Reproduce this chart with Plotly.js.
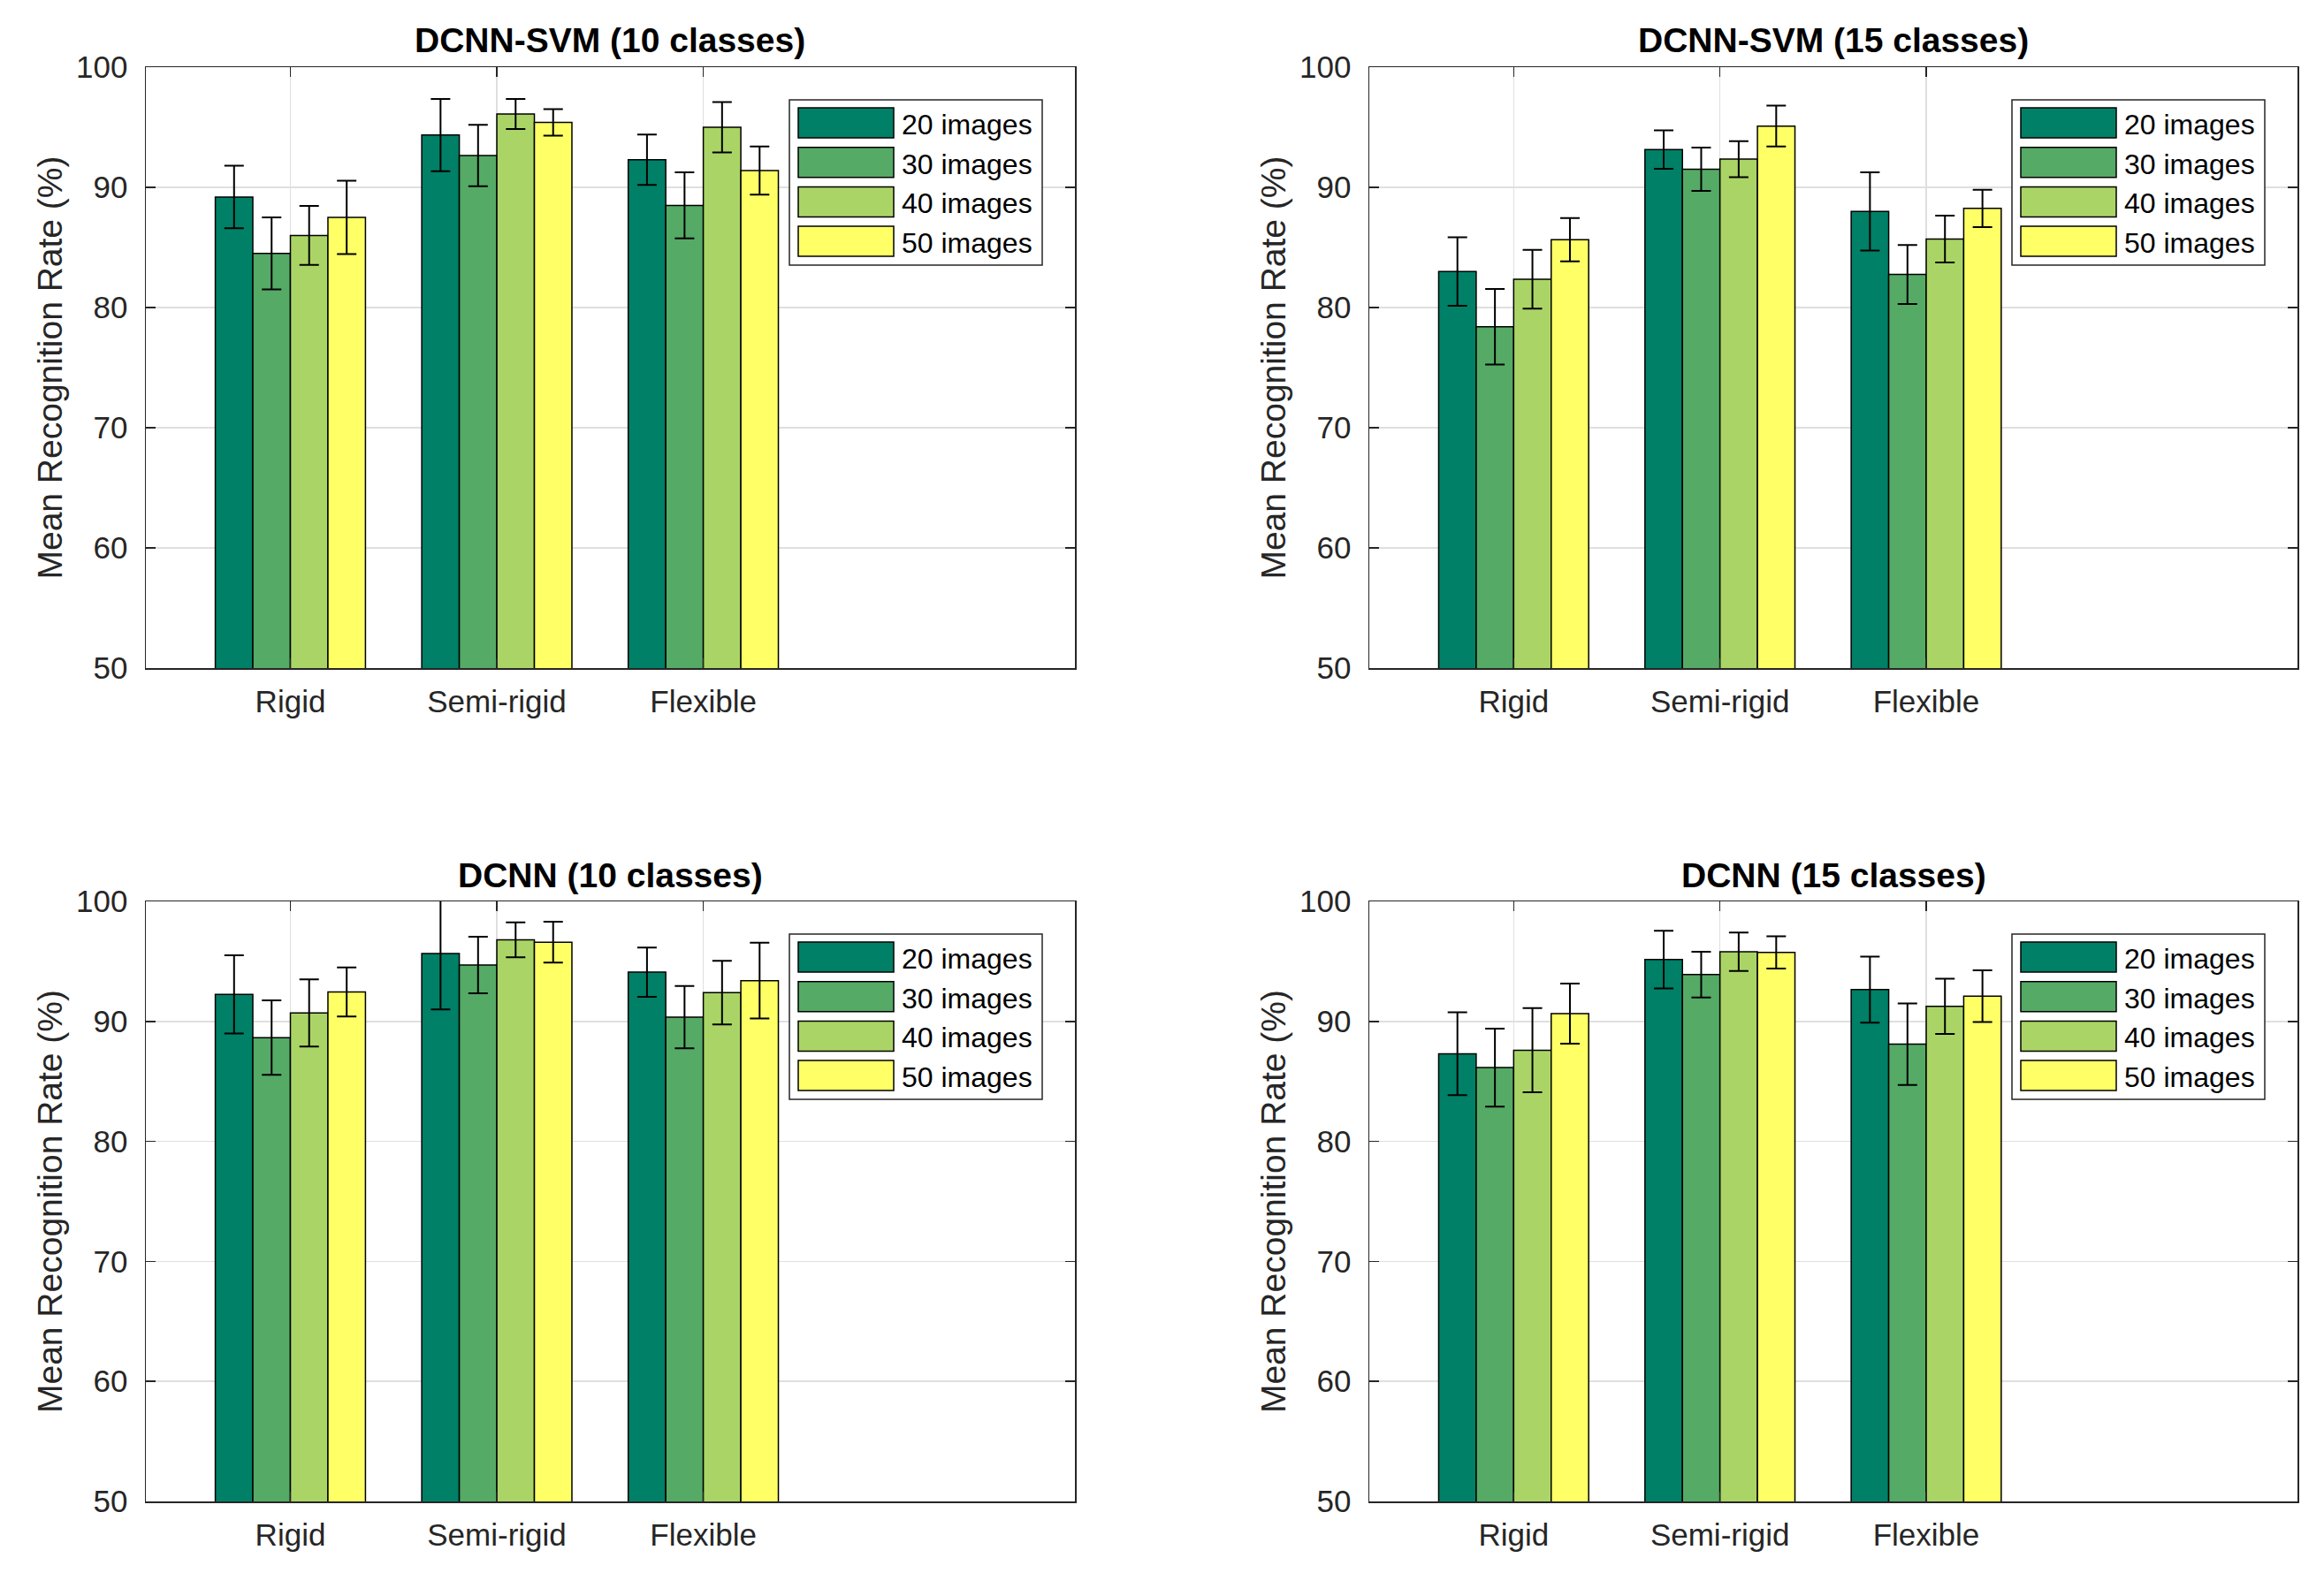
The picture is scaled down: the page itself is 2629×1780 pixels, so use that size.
<!DOCTYPE html>
<html><head><meta charset="utf-8">
<script src="https://cdn.plot.ly/plotly-3.0.1.min.js"></script>
<style>html,body{margin:0;padding:0;background:#fff}</style>
</head><body><div id="chart" style="width:2629px;height:1780px"></div>
<script>
// ---------- data ----------
const categories = ['Rigid', 'Semi-rigid', 'Flexible'];
const seriesNames = ['20 images', '30 images', '40 images', '50 images'];
const panelTitles = ['DCNN-SVM (10 classes)', 'DCNN-SVM (15 classes)', 'DCNN (10 classes)', 'DCNN (15 classes)'];
const yTickVals = [50, 60, 70, 80, 90, 100];
const yAxisLabel = 'Mean Recognition Rate (%)';

// mean values [series][category]
const svm10Mean = [[89.2, 94.35, 92.3], [84.5, 92.65, 88.5], [86.0, 96.1, 95.0], [87.5, 95.4, 91.4]];
const svm10Err  = [[2.6, 3.0, 2.1], [3.0, 2.55, 2.75], [2.45, 1.25, 2.1], [3.05, 1.1, 2.0]];
const svm15Mean = [[83.0, 93.15, 88.0], [78.4, 91.5, 82.75], [82.35, 92.35, 85.7], [85.65, 95.1, 88.25]];
const svm15Err  = [[2.85, 1.6, 3.25], [3.15, 1.8, 2.45], [2.45, 1.5, 1.95], [1.8, 1.7, 1.55]];
const dcnn10Mean = [[92.25, 95.65, 94.1], [88.65, 94.7, 90.35], [90.7, 96.8, 92.4], [92.45, 96.6, 93.4]];
const dcnn10Err  = [[3.25, 4.65, 2.05], [3.1, 2.35, 2.6], [2.8, 1.45, 2.65], [2.05, 1.7, 3.15]];
const dcnn15Mean = [[87.3, 95.15, 92.65], [86.15, 93.9, 88.1], [87.6, 95.8, 91.25], [90.65, 95.75, 92.1]];
const dcnn15Err  = [[3.45, 2.4, 2.75], [3.25, 1.9, 3.4], [3.5, 1.6, 2.3], [2.5, 1.35, 2.15]];

// ---------- style ----------
const W = 2629, H = 1780;
const colors = ['#008066', '#55AA66', '#AAD566', '#FFFF66'];
const FONT = '"Liberation Sans", Arial, Helvetica, sans-serif';
const AX = '#262626';
// axes pixel boxes [left, top, right, bottom]
const boxes = [
  [165, 76, 1216, 756],
  [1549, 76, 2599, 756],
  [165, 1020, 1216, 1699],
  [1549, 1020, 2599, 1699]
];
const panelMeans = [svm10Mean, svm15Mean, dcnn10Mean, dcnn15Mean];
const panelErrs = [svm10Err, svm15Err, dcnn10Err, dcnn15Err];

const px = v => v / W;
const py = v => 1 - v / H;

const traces = [];
const layout = {
  width: W, height: H,
  margin: {l: 0, r: 0, t: 0, b: 0, pad: 0},
  paper_bgcolor: '#fff', plot_bgcolor: '#fff',
  barmode: 'group', bargap: 0.2727, bargroupgap: 0,
  showlegend: false,
  font: {family: FONT, color: AX},
  shapes: [], annotations: []
};

boxes.forEach((b, p) => {
  const sfx = p === 0 ? '' : String(p + 1);
  const xa = 'x' + sfx, ya = 'y' + sfx;
  for (let s = 0; s < seriesNames.length; s++) {
    traces.push({
      type: 'bar', x: categories, y: panelMeans[p][s], name: seriesNames[s],
      xaxis: xa, yaxis: ya, showlegend: false,
      marker: {color: colors[s], line: {color: '#000', width: 1.5}},
      error_y: {type: 'data', array: panelErrs[p][s], visible: true, color: '#000', thickness: 2, width: 11}
    });
  }
  layout['xaxis' + sfx] = {
    domain: [px(b[0]), px(b[2])], anchor: ya,
    type: 'category', categoryorder: 'array', categoryarray: categories,
    range: [-0.7, 3.8], fixedrange: true,
    showline: true, linecolor: AX, linewidth: 1.5, mirror: 'ticks',
    ticks: 'inside', ticklen: 11, tickwidth: 1.5, tickcolor: AX,
    showgrid: true, gridcolor: '#dfdfdf', gridwidth: 1.5, zeroline: false,
    tickfont: {family: FONT, size: 35, color: AX}, ticklabelstandoff: 6
  };
  layout['yaxis' + sfx] = {
    domain: [py(b[3]), py(b[1])], anchor: xa,
    range: [50, 100], tickvals: yTickVals, fixedrange: true,
    showline: true, linecolor: AX, linewidth: 1.5, mirror: 'ticks',
    ticks: 'inside', ticklen: 11, tickwidth: 1.5, tickcolor: AX,
    showgrid: true, gridcolor: '#dfdfdf', gridwidth: 1.5, zeroline: false,
    tickfont: {family: FONT, size: 35, color: AX}, ticklabelstandoff: 12,
    title: {text: yAxisLabel, font: {family: FONT, size: 39, color: AX}, standoff: 3}
  };
  // panel title
  layout.annotations.push({
    xref: 'paper', yref: 'paper', x: px((b[0] + b[2]) / 2), y: py(b[1] - 30),
    xanchor: 'center', yanchor: 'middle', showarrow: false,
    text: '<b>' + panelTitles[p] + '</b>', font: {family: FONT, size: 39, color: '#000'}
  });
  // legend box (north-east, inside)
  const L = b[2] - 323, R = b[2] - 37, T = b[1] + 37, B = b[1] + 224;
  layout.shapes.push({type: 'rect', xref: 'paper', yref: 'paper', x0: px(L), x1: px(R), y0: py(B), y1: py(T),
    line: {color: AX, width: 1.5}, fillcolor: '#fff', layer: 'above'});
  for (let s = 0; s < seriesNames.length; s++) {
    const st = T + 9 + s * 44.7;
    layout.shapes.push({type: 'rect', xref: 'paper', yref: 'paper', x0: px(L + 10), x1: px(L + 118),
      y0: py(st + 34), y1: py(st), line: {color: '#000', width: 1.5}, fillcolor: colors[s], layer: 'above'});
    layout.annotations.push({xref: 'paper', yref: 'paper', x: px(L + 125), y: py(st + 19),
      xanchor: 'left', yanchor: 'middle', showarrow: false, text: seriesNames[s],
      font: {family: FONT, size: 32, color: '#000'}});
  }
});

Plotly.newPlot('chart', traces, layout, {displayModeBar: false, staticPlot: true});
</script></body></html>
